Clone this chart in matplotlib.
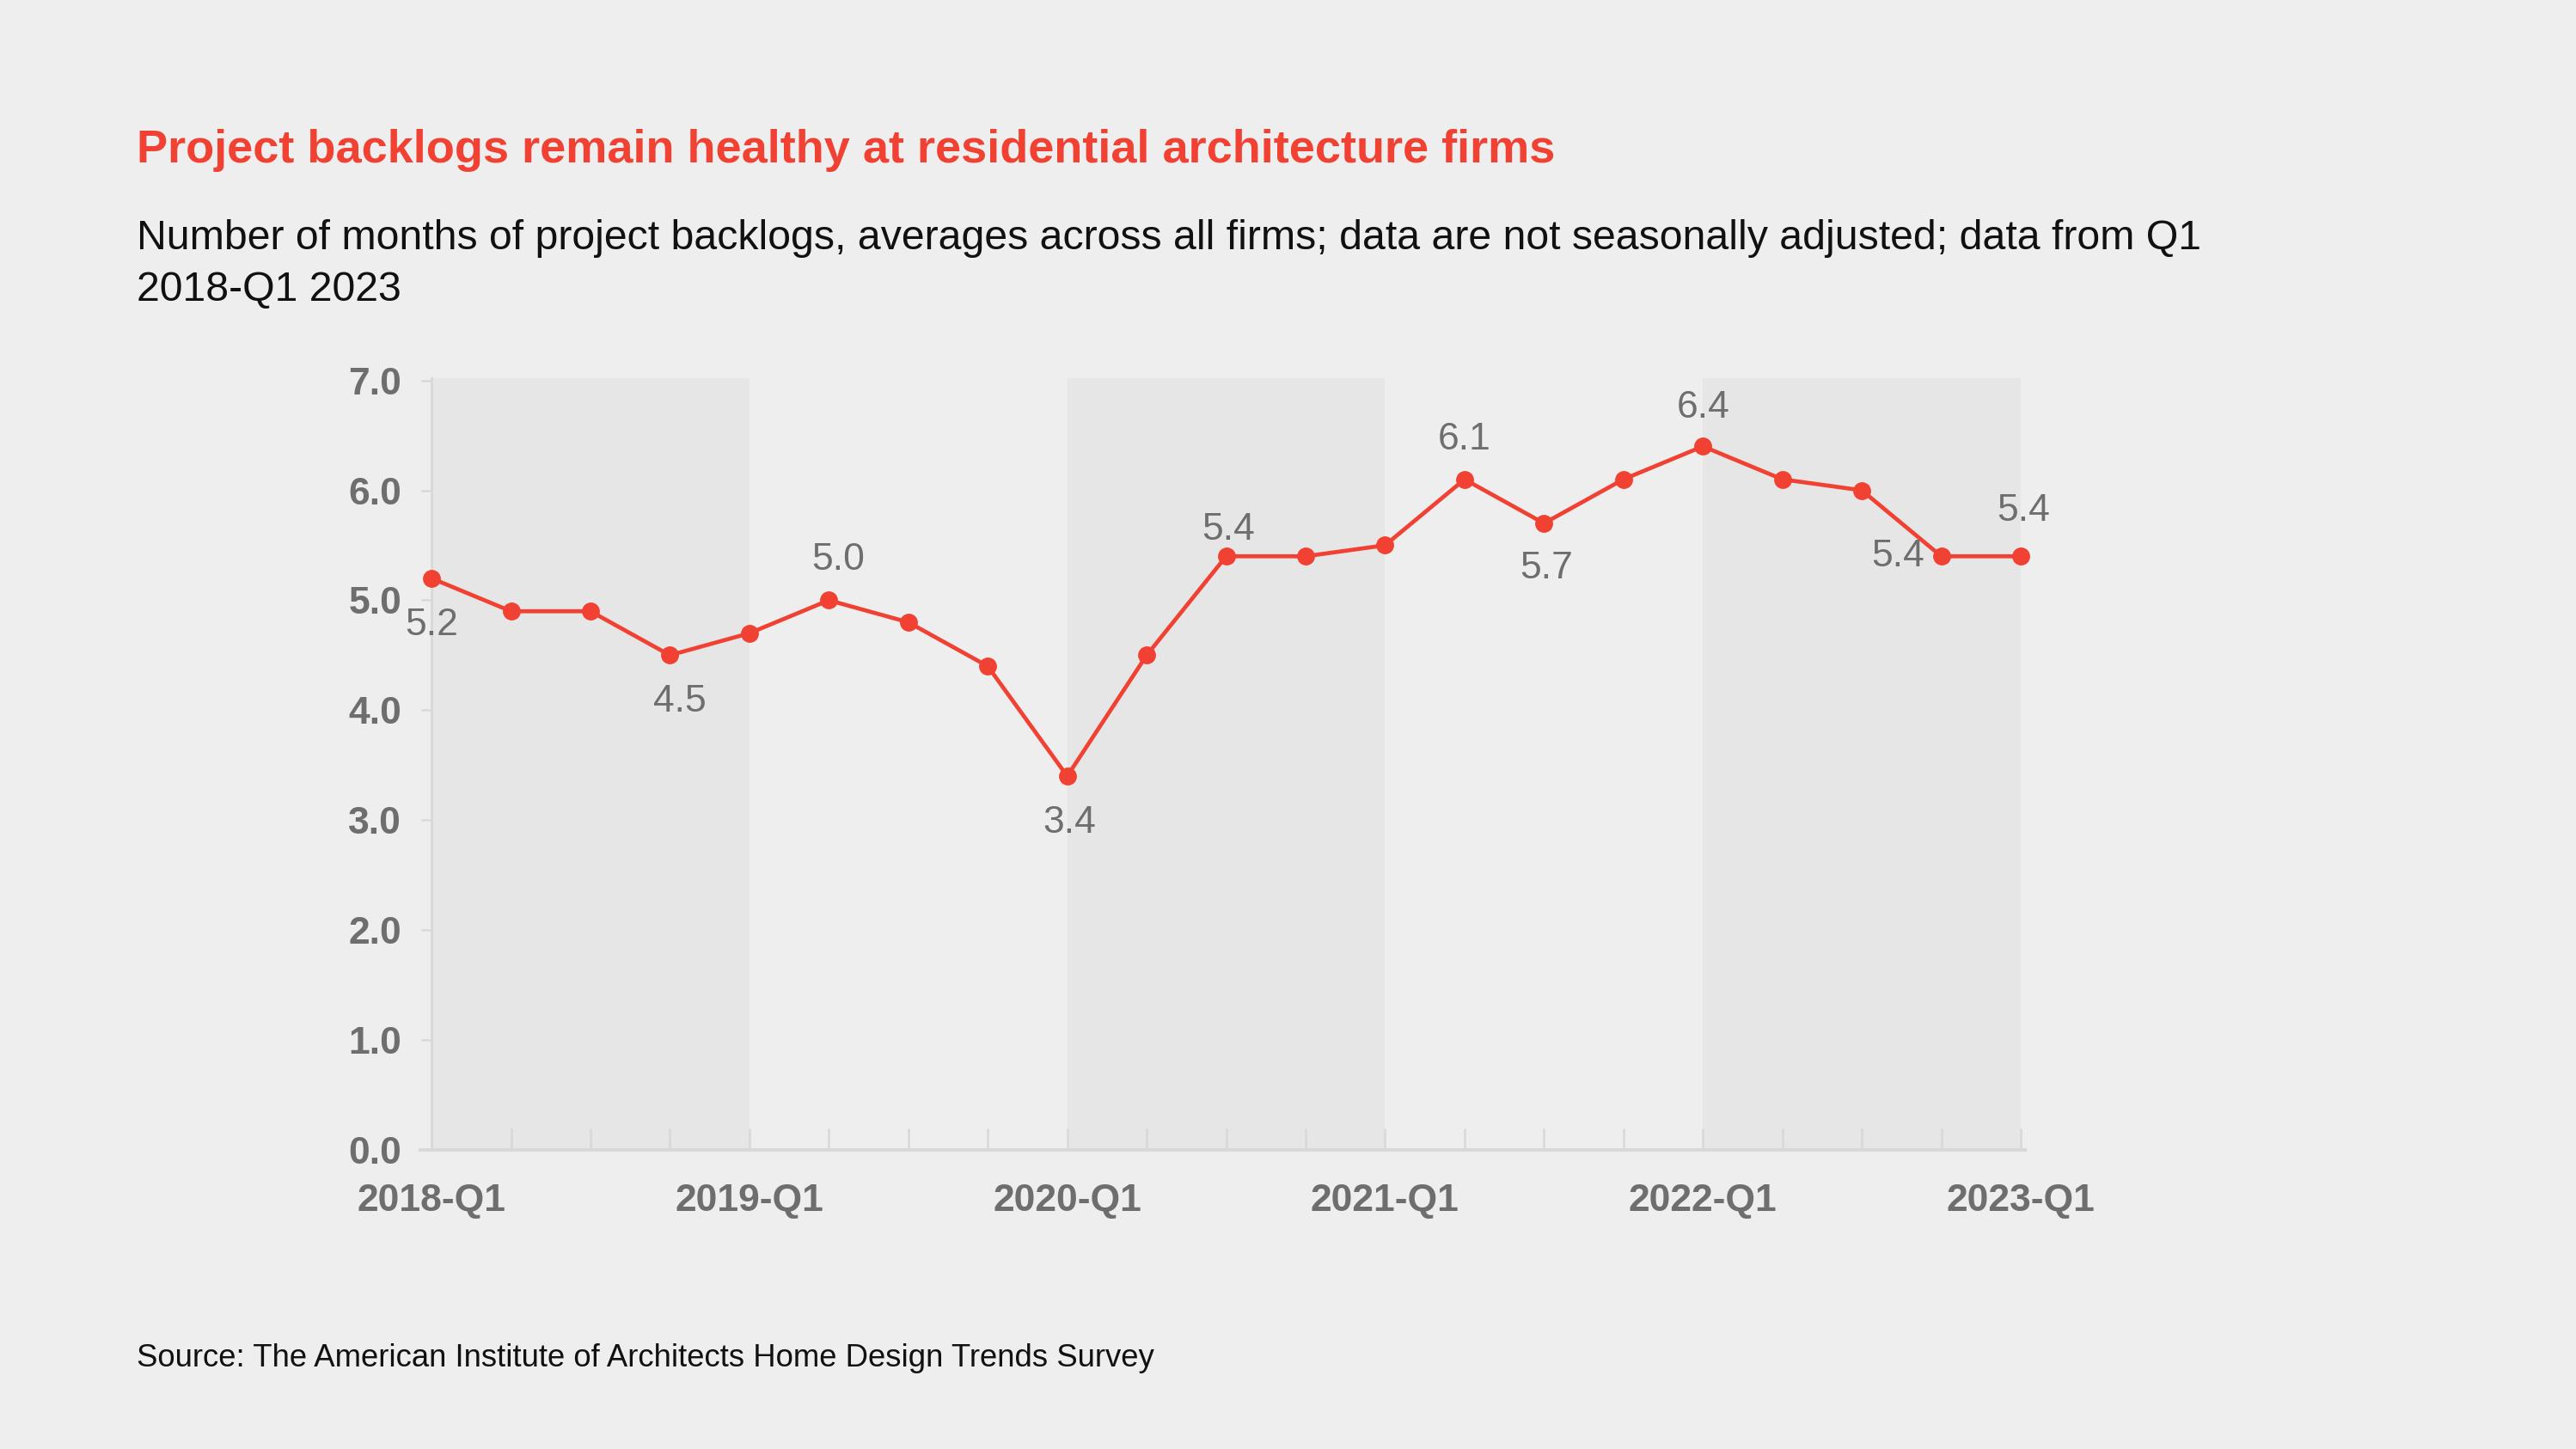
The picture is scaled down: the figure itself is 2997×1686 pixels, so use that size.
import matplotlib
matplotlib.use("Agg")
import matplotlib.pyplot as plt
from matplotlib import font_manager

quarters = ["2018-Q1", "2018-Q2", "2018-Q3", "2018-Q4",
            "2019-Q1", "2019-Q2", "2019-Q3", "2019-Q4",
            "2020-Q1", "2020-Q2", "2020-Q3", "2020-Q4",
            "2021-Q1", "2021-Q2", "2021-Q3", "2021-Q4",
            "2022-Q1", "2022-Q2", "2022-Q3", "2022-Q4",
            "2023-Q1"]
backlog_months = [5.2, 4.9, 4.9, 4.5, 4.7, 5.0, 4.8, 4.4, 3.4, 4.5, 5.4,
                  5.4, 5.5, 6.1, 5.7, 6.1, 6.4, 6.1, 6.0, 5.4, 5.4]
y_ticks = [0.0, 1.0, 2.0, 3.0, 4.0, 5.0, 6.0, 7.0]
labelled_points = [0, 3, 5, 8, 10, 13, 14, 16, 19, 20]
shaded_years = [("2018-Q1", "2019-Q1"), ("2020-Q1", "2021-Q1"), ("2022-Q1", "2023-Q1")]

# label placement (offset in points, horizontal alignment)
label_pos = {0: (0, -19.5, "center"), 3: (4, -19.5, "center"), 5: (4, 17, "center"),
             8: (1, -19.5, "center"), 10: (1, 11, "center"), 13: (0, 16.5, "center"),
             14: (1, -19, "center"), 16: (0, 16, "center"), 19: (-7, 0, "right"),
             20: (1, 19, "center")}

BG = "#eeeeee"
BAND = "#e6e6e6"
RED = "#f04132"
GREY = "#6e6e6e"
AXIS = "#d8d8d8"

installed = {f.name for f in font_manager.fontManager.ttflist}
narrow = "Liberation Sans Narrow" if "Liberation Sans Narrow" in installed else "Liberation Sans"
main = "Liberation Sans"

fig = plt.figure(figsize=(14.985, 8.43), dpi=200)
fig.patch.set_facecolor(BG)
ax = fig.add_axes([0.1632, 0.2064, 0.6228, 0.5326])
ax.set_facecolor(BG)

x = list(range(len(quarters)))
for start, end in shaded_years:
    ax.axvspan(quarters.index(start), quarters.index(end), color=BAND, lw=0, zorder=0)

ax.plot(x, backlog_months, color=RED, lw=1.7, marker="o", markersize=6.5,
        zorder=3, clip_on=False)

for i in labelled_points:
    dx, dy, ha = label_pos[i]
    ax.annotate(f"{backlog_months[i]:.1f}", (x[i], backlog_months[i]),
                xytext=(dx, dy), textcoords="offset points", ha=ha, va="center",
                fontsize=16, color=GREY, family=main, zorder=4)

ax.set_xlim(-0.14, 20.05)
ax.set_ylim(0, 7.02)
ax.set_xticks(x)
ax.set_xticklabels([q if q.endswith("Q1") else "" for q in quarters])
ax.set_yticks(y_ticks)
ax.set_yticklabels([f"{v:.1f}" for v in y_ticks])

for side in ["top", "right"]:
    ax.spines[side].set_visible(False)
ax.spines["left"].set_position(("data", 0))
ax.spines["left"].set_color(AXIS)
ax.spines["left"].set_linewidth(1.0)
ax.spines["bottom"].set_color(AXIS)
ax.spines["bottom"].set_linewidth(1.5)

ax.tick_params(axis="x", direction="in", length=9, width=0.9, color=AXIS, pad=14,
               labelsize=16, labelcolor=GREY)
ax.tick_params(axis="y", direction="out", length=4.5, width=0.9, color=AXIS, pad=8,
               labelsize=16, labelcolor=GREY)
for lab in ax.get_xticklabels() + ax.get_yticklabels():
    lab.set_fontweight("bold")
    lab.set_family(main)

fig.text(159 / 2997, 1 - 189 / 1686,
         "Project backlogs remain healthy at residential architecture firms",
         color=RED, fontsize=19.5, fontweight="bold", family=narrow, va="baseline")
fig.text(159 / 2997, 1 - 290 / 1686,
         "Number of months of project backlogs, averages across all firms; data are not seasonally adjusted; data from Q1",
         color="#111111", fontsize=17.4, family=narrow, va="baseline")
fig.text(159 / 2997, 1 - 350 / 1686, "2018-Q1 2023",
         color="#111111", fontsize=17.4, family=narrow, va="baseline")
fig.text(159 / 2997, 1 - 1590 / 1686,
         "Source: The American Institute of Architects Home Design Trends Survey",
         color="#111111", fontsize=13.15, family=narrow, va="baseline")

fig.savefig("out.png", dpi=200, facecolor=BG)
